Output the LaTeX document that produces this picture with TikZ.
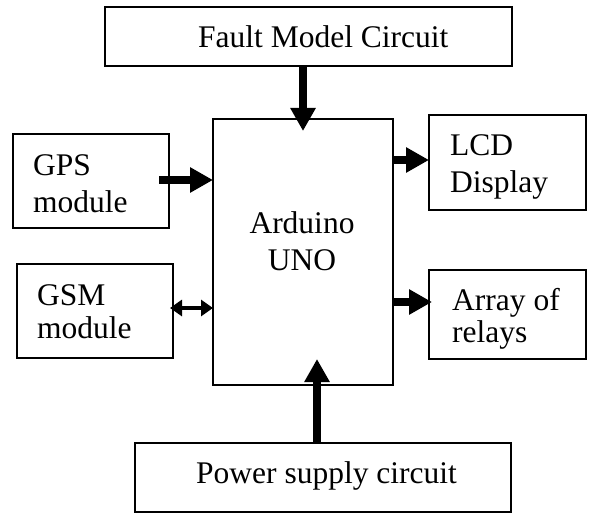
\documentclass[tikz,border=0pt]{standalone}
\usepackage{fontspec}
\setmainfont{Liberation Serif}
\usetikzlibrary{arrows.meta}
\begin{document}
\begin{tikzpicture}[x=1pt,y=-1pt,
  box/.style={draw=black,line width=1.3pt,rectangle,anchor=north west,inner sep=0pt,outer sep=0pt},
  txt/.style={anchor=base west,inner sep=0pt,font=\fontsize{31.5}{37}\selectfont},
  ctxt/.style={anchor=base,inner sep=0pt,font=\fontsize{31.5}{37}\selectfont},
  bigarrow/.style={line width=8pt,-{Triangle[width=24pt,length=23pt]}},
  dblarrow/.style={line width=4.5pt,{Triangle[width=16pt,length=12pt]}-{Triangle[width=16pt,length=12pt]}}]
\useasboundingbox (0,0) rectangle (593,513);
% boxes
\node[box,minimum width=407pt,minimum height=59pt] (fault) at (105,7) {};
\node[box,minimum width=180pt,minimum height=266pt] (ard) at (213,119) {};
\node[box,minimum width=156pt,minimum height=94pt] (gps) at (13,134) {};
\node[box,minimum width=157pt,minimum height=95pt] (lcd) at (429,115) {};
\node[box,minimum width=156pt,minimum height=94pt] (gsm) at (17,264) {};
\node[box,minimum width=157pt,minimum height=89pt] (relay) at (429,270) {};
\node[box,minimum width=376pt,minimum height=69pt] (power) at (135,443) {};
% texts
\node[txt] (faultT) at (198,48) {Fault Model Circuit};
\node[ctxt] (ardT1) at (302,233) {Arduino};
\node[ctxt] (ardT2) at (302,270) {UNO};
\node[txt] (gpsT1) at (33,175) {GPS};
\node[txt] (gpsT2) at (33,212) {module};
\node[txt] (lcdT1) at (450,155) {LCD};
\node[txt] (lcdT2) at (450,192) {Display};
\node[txt] (gsmT1) at (37,305) {GSM};
\node[txt] (gsmT2) at (37,338) {module};
\node[txt] (relayT1) at (452,310) {Array of};
\node[txt] (relayT2) at (452,342) {relays};
\node[txt] (powerT) at (196,483) {Power supply circuit};
% arrow coordinates
\coordinate (t1) at (303,131);
\coordinate (s2) at (159,180);
\coordinate (t3) at (429,160);
\coordinate (t4) at (432,302);
\coordinate (s5) at (170,308);
\coordinate (t6) at (317,359);
% connectors
\draw[bigarrow] (fault.south -| t1) -- (t1);
\draw[bigarrow] (s2) -- (ard.west |- s2);
\draw[bigarrow] (ard.east |- t3) -- (t3);
\draw[bigarrow] (ard.east |- t4) -- (t4);
\draw[dblarrow] (s5) -- (ard.west |- s5);
\draw[bigarrow] (power.north -| t6) -- (t6);
\end{tikzpicture}
\end{document}
